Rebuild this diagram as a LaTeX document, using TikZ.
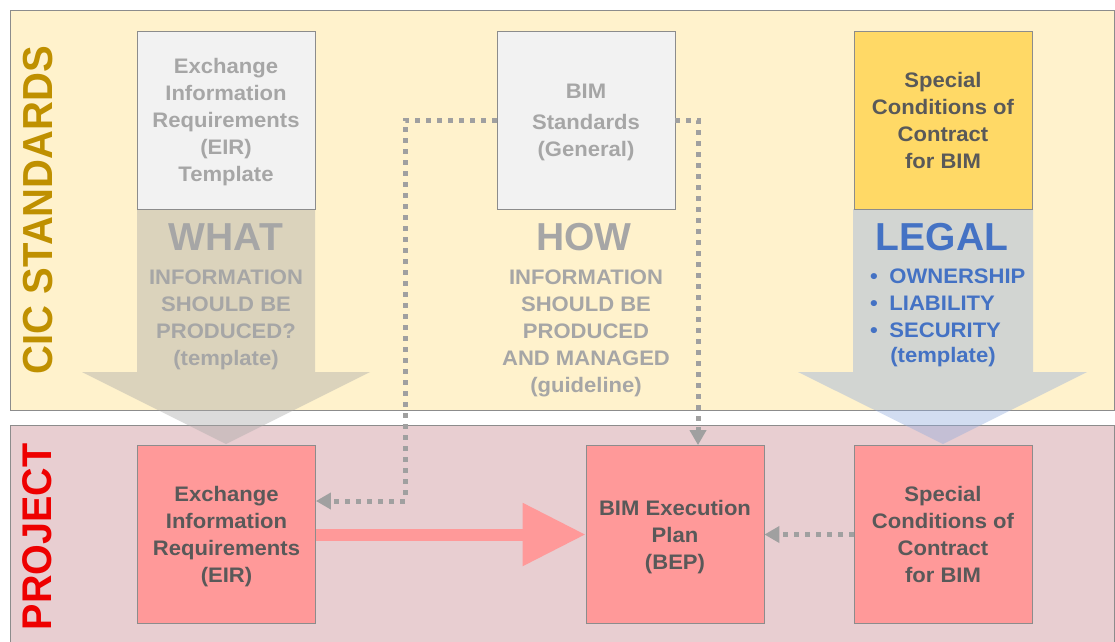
\documentclass[tikz,border=0pt]{standalone}
\usepackage{fontspec}
\setmainfont{Liberation Sans}
\newfontfamily\sfont{Liberation Sans}[FakeStretch=1.05]
\usetikzlibrary{arrows.meta}
\definecolor{topbg}{HTML}{FFF2CC}
\definecolor{botbg}{HTML}{E8CED1}
\definecolor{panelborder}{HTML}{8C8C8C}
\definecolor{graybox}{HTML}{F2F2F2}
\definecolor{yellowbox}{HTML}{FFD966}
\definecolor{pinkbox}{HTML}{FF9999}
\definecolor{lighttxt}{HTML}{A6A6A6}
\definecolor{darktxt}{HTML}{595959}
\definecolor{legalblue}{HTML}{4472C4}
\definecolor{cicgold}{HTML}{BF9000}
\definecolor{projred}{HTML}{EE0000}
\definecolor{dotgray}{HTML}{A0A0A0}
\definecolor{shaftgray}{HTML}{A6A6A6}
\definecolor{bluearrow}{HTML}{8FAADC}
\tikzset{
  panel/.style={draw=panelborder, line width=0.8pt},
  boxnode/.style={draw=panelborder, line width=0.8pt, minimum width=178pt, minimum height=178pt,
    inner sep=0pt, text depth=0pt, align=center, font=\sfont\fontsize{21}{27}\selectfont\bfseries},
  smalltxt/.style={align=center, inner sep=0pt, font=\sfont\fontsize{21}{27}\selectfont\bfseries},
  bigtxt/.style={inner sep=0pt, font=\fontsize{39}{39}\selectfont\bfseries},
  sidetxt/.style={rotate=90, inner sep=0pt},
  dotline/.style={draw=dotgray, line width=5pt, dash pattern=on 5pt off 6pt,
    -{Triangle[length=15pt,width=16pt]}},
  pinkarrow/.style={draw=pinkbox, line width=12pt, -{Triangle[length=63pt,width=60pt]}}
}
\begin{document}
\begin{tikzpicture}[x=1pt,y=-1pt]
\useasboundingbox (0,0) rectangle (1115,641);
\fill[white] (0,0) rectangle (1115,641);
% panels
\filldraw[panel, fill=topbg] (10,10) rectangle (1114.5,410);
\filldraw[panel, fill=botbg] (10,425) rectangle (1114.5,645);
% big translucent down arrows
\fill[shaftgray, opacity=0.4] (137,209) -- (315,209) -- (315,372) -- (370,372) -- (226,444)
  -- (82,372) -- (137,372) -- cycle;
\fill[bluearrow, opacity=0.4] (853,209) -- (1033,209) -- (1033,372) -- (1087,372) -- (943,444)
  -- (798,372) -- (853,372) -- cycle;
% side labels
\node[sidetxt, text=cicgold, font=\fontsize{40}{40}\selectfont\bfseries] (cic) at (38,210)
  {\scalebox{1}[1.05]{CIC STANDARDS}};
\node[sidetxt, text=projred, font=\fontsize{39.5}{39.5}\selectfont\bfseries] (proj) at (37,537)
  {\scalebox{1}[1.05]{PROJECT}};
% top boxes
\node[boxnode, fill=graybox, text=lighttxt] (eirt) at (226,120)
  {Exchange\\Information\\Requirements\\(EIR)\\Template};
\node[boxnode, fill=graybox, text=lighttxt] (bimstd) at (586,120)
  {BIM\\[4pt]Standards\\(General)};
\node[boxnode, fill=yellowbox, text=darktxt] (spect) at (943,120)
  {Special\\Conditions of\\Contract\\for BIM};
% bottom boxes
\node[boxnode, fill=pinkbox, text=darktxt] (eirb) at (226.5,534.5)
  {Exchange\\Information\\Requirements\\(EIR)};
\node[boxnode, fill=pinkbox, text=darktxt] (bep) at (675,534.5)
  {BIM Execution\\Plan\\(BEP)};
\node[boxnode, fill=pinkbox, text=darktxt] (specb) at (943,534.5)
  {Special\\Conditions of\\Contract\\for BIM};
% column texts
\node[bigtxt, text=lighttxt] (what) at (226,237) {WHAT};
\node[smalltxt, text=lighttxt] (whattxt) at (226,320)
  {INFORMATION\\SHOULD BE\\PRODUCED?\\(template)};
\node[bigtxt, text=lighttxt] (how) at (584,237) {HOW};
\node[smalltxt, text=lighttxt] (howtxt) at (586,333)
  {INFORMATION\\SHOULD BE\\PRODUCED\\AND MANAGED\\(guideline)};
\node[bigtxt, text=legalblue] (legal) at (942,237) {LEGAL};
\node[smalltxt, align=left, anchor=west, text=legalblue] (legaltxt) at (870,303)
  {\textbullet\hspace{0.55em}OWNERSHIP\\\textbullet\hspace{0.55em}LIABILITY\\\textbullet\hspace{0.55em}SECURITY};
\node[smalltxt, text=legalblue] (legaltpl) at (943,357) {(template)};
% connectors
\coordinate (c1) at (405,501);
\coordinate (c2) at (698,446);
\draw[dotline] (bimstd.west) -| (c1) -- (eirb.east |- c1);
\draw[dotline] (bimstd.east) -| (bep.north -| c2);
\draw[dotline] (specb.west) -- (bep.east);
\draw[pinkarrow] (eirb.east) -- (bep.west);
\end{tikzpicture}
\end{document}
